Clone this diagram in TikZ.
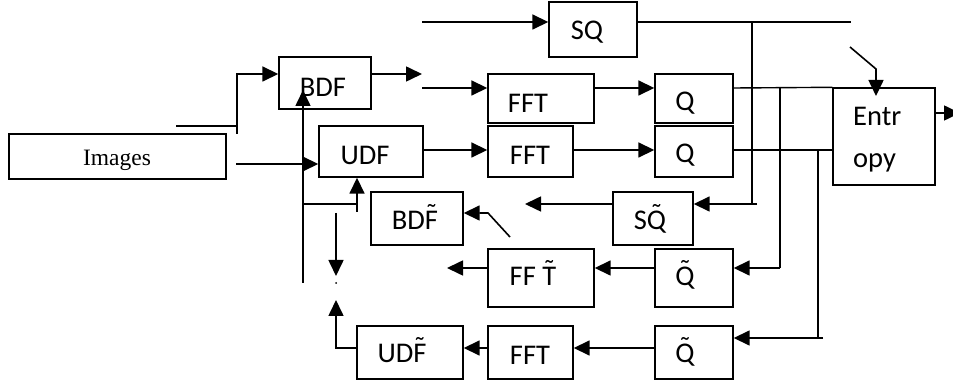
\documentclass[tikz,border=0pt]{standalone}
\usepackage{fontspec}
\setmainfont{Carlito}
\newfontfamily\timesfont{Liberation Serif}
\usetikzlibrary{arrows.meta}
\newcommand\tld[1]{\ooalign{#1\cr\hidewidth\raisebox{0.2em}{\char"02DC}\hidewidth\cr}}
\tikzset{
  box/.style={draw, line width=1.4pt, rectangle, inner sep=0pt},
  txt/.style={inner sep=0pt, font=\fontsize{28.5}{31}\selectfont},
  ln/.style={line width=1.4pt},
  arr/.style={line width=1.6pt, -{Triangle[length=16pt,width=15pt]}}
}
\begin{document}
\begin{tikzpicture}[x=1pt,y=-1pt]
\useasboundingbox (0,0) rectangle (953,387);
% boxes
\node[box, minimum width=217pt, minimum height=45pt] (img) at (117.5,156.5) {};
\node[box, minimum width=92pt, minimum height=52pt] (bdf) at (325,83) {};
\node[box, minimum width=104pt, minimum height=51pt] (udf) at (371,151.5) {};
\node[box, minimum width=88pt, minimum height=55pt] (sq) at (593,29.5) {};
\node[box, minimum width=106pt, minimum height=49pt] (fft1) at (541,98.5) {};
\node[box, minimum width=78pt, minimum height=49pt] (q1) at (694,98.5) {};
\node[box, minimum width=85pt, minimum height=51pt] (fft2) at (530.5,151.5) {};
\node[box, minimum width=78pt, minimum height=51pt] (q2) at (694,151.5) {};
\node[box, minimum width=102pt, minimum height=97pt] (ent) at (884,136.5) {};
\node[box, minimum width=92pt, minimum height=53pt] (bdft) at (417,218.5) {};
\node[box, minimum width=80pt, minimum height=53pt] (sqt) at (653,218.5) {};
\node[box, minimum width=106pt, minimum height=58pt] (ffttl) at (541,278) {};
\node[box, minimum width=78pt, minimum height=58pt] (qt1) at (694,278) {};
\node[box, minimum width=106pt, minimum height=53pt] (udft) at (410,352.5) {};
\node[box, minimum width=85pt, minimum height=53pt] (fft3) at (530.5,352.5) {};
\node[box, minimum width=78pt, minimum height=53pt] (qt2) at (694,352.5) {};
% texts
\node[inner sep=0pt, font=\timesfont\fontsize{23.5}{26}\selectfont] (imgT) at (117,160) {Images};
\node[txt] (bdfT) at (323,87) {BDF};
\node[txt] (udfT) at (365,155) {UDF};
\node[txt] (sqT) at (587,32) {SQ};
\node[txt] (fft1T) at (528,103) {FFT};
\node[txt] (q1T) at (685,103) {Q};
\node[txt] (fft2T) at (530,155) {FFT};
\node[txt] (q2T) at (685,155) {Q};
\node[txt, anchor=west, align=left, font=\fontsize{28.5}{42}\selectfont] (entT) at (853,140) {Entr\\opy};
\node[txt] (bdftT) at (415,220) {BD\tld{F}};
\node[txt] (sqtT) at (650,220) {S\tld{Q}};
\node[txt] (ffttlT) at (533,276) {FF \tld{T}};
\node[txt] (qt1T) at (685,276) {\tld{Q}};
\node[txt] (udftT) at (402,353) {UD\tld{F}};
\node[txt] (fft3T) at (530,355) {FFT};
\node[txt] (qt2T) at (685,353) {\tld{Q}};
% coordinates
\coordinate (a1) at (176,126);
\coordinate (a2) at (237,126);
\coordinate (a3) at (237,134);
\coordinate (a4) at (237,74);
\coordinate (b1) at (422,74);
\coordinate (c1) at (422,22);
\coordinate (c2) at (422,88);
\coordinate (d1) at (236,164);
\coordinate (e1) at (851,22);
\coordinate (v1) at (752,22);
\coordinate (v1b) at (752,204);
\coordinate (v1c) at (757,204);
\coordinate (v2) at (780,88);
\coordinate (v2b) at (780,268);
\coordinate (v3) at (818,150);
\coordinate (v3b) at (818,338);
\coordinate (v3c) at (823,338);
\coordinate (g1) at (850,47);
\coordinate (g2) at (876,69);
\coordinate (g3) at (876,96);
\coordinate (h1) at (960,113);
\coordinate (s1) at (525,204);
\coordinate (k1) at (510,237);
\coordinate (k2) at (488,213);
\coordinate (m1) at (447,268);
\coordinate (p1) at (336,348);
\coordinate (p2) at (336,300);
\coordinate (p3) at (336,213);
\coordinate (p4) at (336,276);
\coordinate (dot) at (336,283);
\coordinate (r1) at (303,283);
\coordinate (r2) at (303,90);
\coordinate (r3) at (303,204);
\coordinate (r4) at (357,204);
\coordinate (r5) at (357,212);
% connectors
\draw[ln] (a1) -- (a2);
\draw[arr] (a3) -- (a4) -- (bdf.west |- a4);
\draw[arr] (bdf.east |- b1) -- (b1);
\draw[arr] (c1) -- (sq.west |- c1);
\draw[arr] (c2) -- (fft1.west |- c2);
\draw[arr] (d1) -- (udf.west |- d1);
\draw[arr] (udf.east |- 0,150) -- (fft2.west |- 0,150);
\draw[arr] (fft1.east |- 0,88) -- (q1.west |- 0,88);
\draw[arr] (fft2.east |- 0,150) -- (q2.west |- 0,150);
\draw[ln] (q1.east |- 0,88) -- (ent.north west);
\draw[ln] (q2.east |- 0,150) -- (ent.west |- 0,150);
\draw[ln] (sq.east |- e1) -- (e1);
\draw[ln] (v1) -- (v1b);
\draw[arr] (v1c) -- (sqt.east |- v1c);
\draw[ln] (v2) -- (v2b);
\draw[arr] (v2b) -- (qt1.east |- v2b);
\draw[ln] (v3) -- (v3b);
\draw[arr] (v3c) -- (qt2.east |- v3c);
\draw[arr] (g1) -- (g2) -- (g3);
\draw[arr] (ent.east |- h1) -- (h1);
\draw[arr] (sqt.west |- s1) -- (s1);
\draw[arr] (k1) -- (k2) -- (bdft.east |- k2);
\draw[arr] (qt1.west |- 0,268) -- (ffttl.east |- 0,268);
\draw[arr] (ffttl.west |- m1) -- (m1);
\draw[arr] (qt2.west |- 0,348) -- (fft3.east |- 0,348);
\draw[arr] (fft3.west |- 0,348) -- (udft.east |- 0,348);
\draw[arr] (udft.west |- p1) -- (p1) -- (p2);
\draw[arr] (p3) -- (p4);
\fill (dot) circle (1pt);
\draw[arr] (r1) -- (r2);
\draw[ln] (r3) -- (r4);
\draw[arr] (r5) -- (r5 |- udf.south);
\end{tikzpicture}
\end{document}
